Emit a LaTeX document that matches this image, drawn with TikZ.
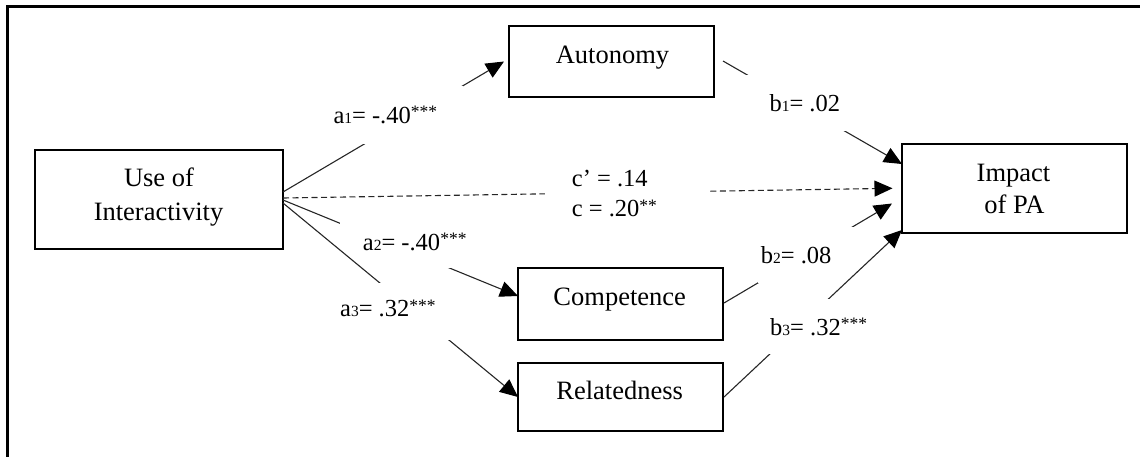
\documentclass[tikz,border=0pt]{standalone}
\usepackage{fontspec}
\setmainfont{Liberation Serif}
\usetikzlibrary{arrows.meta}
\tikzset{
  frameline/.style={line width=2.8pt, draw=black},
  box/.style={draw=black, line width=2.2pt, rectangle, inner sep=0pt},
  conn/.style={line width=1.1pt, draw=black!85, -{Triangle[length=18pt,width=16pt,color=black]}},
  dconn/.style={conn, dash pattern=on 6pt off 3.5pt},
  mask/.style={fill=white, draw=none, inner sep=0pt, rectangle},
  txt/.style={inner sep=0pt, anchor=base, font=\fontsize{26.5}{32}\selectfont},
  lbl/.style={inner sep=0pt, anchor=base west, font=\fontsize{24.5}{30}\selectfont},
}
\newcommand{\sbd}[1]{{\fontsize{15.5}{15.5}\selectfont #1}}
\newcommand{\sig}[1]{\raisebox{5.5pt}{\fontsize{17.5}{17.5}\selectfont #1}}
\begin{document}
\begin{tikzpicture}[x=1pt,y=-1pt]
\useasboundingbox (0,0) rectangle (1140,456);
\draw[frameline] (1142,6.7) -- (7.5,6.7) -- (7.5,458);

% boxes
\node[box, minimum width=248pt, minimum height=99pt] (use) at (159,199.5) {};
\node[box, minimum width=205pt, minimum height=71pt] (aut) at (611.5,61.5) {};
\node[box, minimum width=205pt, minimum height=72pt] (comp) at (620.5,304) {};
\node[box, minimum width=205pt, minimum height=68pt] (rel) at (620.5,397) {};
\node[box, minimum width=225pt, minimum height=89pt] (imp) at (1014.5,188.5) {};

% connector end points on the box borders
\coordinate (u1) at (283,192);
\coordinate (u0) at (283,198);
\coordinate (u2) at (283,200);
\coordinate (u3) at (283,203);
\coordinate (autIn) at (504,61.5);
\coordinate (autOut) at (723,61);
\coordinate (compIn) at (518,296);
\coordinate (compOut) at (724,303);
\coordinate (relIn) at (518,397);
\coordinate (relOut) at (724,397);
\coordinate (imp1) at (902,164);
\coordinate (imp0) at (892.5,188.3);
\coordinate (imp2) at (892,203.5);
\coordinate (imp3) at (902,230);

% connectors with white label masks
\draw[conn] (u1) -- (autIn);
\node[mask, minimum width=152pt, minimum height=58pt] (ma1) at (387,115) {};
\draw[dconn] (u0) -- (imp0);
\node[mask, minimum width=163pt, minimum height=60pt] (mc) at (626.5,193) {};
\draw[conn] (u2) -- (compIn);
\node[mask, minimum width=132pt, minimum height=48pt] (ma2) at (406,244) {};
\draw[conn] (u3) -- (relIn);
\node[mask, minimum width=120pt, minimum height=57pt] (ma3) at (390,311.5) {};
\draw[conn] (autOut) -- (imp1);
\node[mask, minimum width=115pt, minimum height=56pt] (mb1) at (802.5,103) {};
\draw[conn] (compOut) -- (imp2);
\node[mask, minimum width=97pt, minimum height=56pt] (mb2) at (806.5,255) {};
\draw[conn] (relOut) -- (imp3);
\node[mask, minimum width=107pt, minimum height=55pt] (mb3) at (818.5,326.5) {};

% box texts
\node[txt] (autT) at (612.5,63.3) {Autonomy};
\node[txt] (useT1) at (159,186.7) {Use of};
\node[txt] (useT2) at (158.5,220) {Interactivity};
\node[txt] (impT1) at (1013.5,181.7) {Impact};
\node[txt] (impT2) at (1014.5,213.3) {of PA};
\node[txt] (compT) at (619.7,305) {Competence};
\node[txt] (relT) at (619.7,399.3) {Relatedness};

% labels
\node[lbl] (la1) at (333.3,123.3) {a\sbd{1}= -.40\sig{***}};
\node[lbl] (la2) at (362.7,250) {a\sbd{2}= -.40\sig{***}};
\node[lbl] (la3) at (340,316.7) {a\sbd{3}= .32\sig{***}};
\node[lbl] (lb1) at (769.3,111.7) {b\sbd{1}= .02};
\node[lbl] (lb2) at (760.7,263.3) {b\sbd{2}= .08};
\node[lbl] (lb3) at (770,335) {b\sbd{3}= .32\sig{***}};
\node[lbl] (lc1) at (571.7,186.7) {c’ = .14};
\node[lbl] (lc2) at (571.7,216.7) {c = .20\sig{**}};
\end{tikzpicture}
\end{document}
